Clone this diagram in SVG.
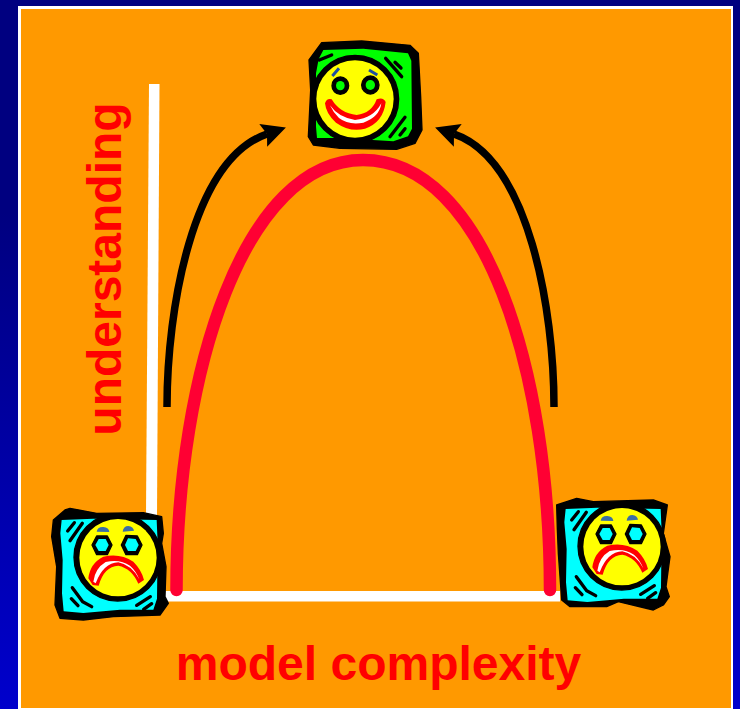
<svg xmlns="http://www.w3.org/2000/svg" width="740" height="709" viewBox="0 0 740 709">
<style>
.lbl{font-family:"Liberation Sans",Arial,sans-serif;font-weight:700;fill:#ff0000}
.k{fill:#000;stroke:#000;stroke-width:4;stroke-linejoin:round}.y{fill:#ffff00}.c{fill:#00ffff}.g{fill:#00ff00}.r{fill:#ff0000}.w{fill:#ffffff}
.hatch{stroke:#000;stroke-width:10;fill:none;stroke-linecap:round}
.sadbrow{fill:#3a6ea5}
</style>
<defs>
<linearGradient id="bg" x1="0" y1="0" x2="0" y2="1"><stop offset="0" stop-color="#000080"/><stop offset="0.3" stop-color="#000080"/><stop offset="1" stop-color="#0000cc"/></linearGradient>
<marker id="ah" markerUnits="userSpaceOnUse" markerWidth="34" markerHeight="34" refX="4" refY="12" orient="auto"><path d="M0,0L24,12L0,24L4,12Z" fill="#000"/></marker>
<g id="sad">
<path class="c" d="M65,60L160,56L350,60L353,130L351,296L340,329L240,329L130,339L71,334L66,280L68,180L61,100Z"/>
<circle class="k" cx="233" cy="172" r="131"/><circle class="y" cx="234" cy="173" r="116"/>
<path class="hatch" d="M83,93L103,68M90,122L127,70M97,263L128,305L155,320M94,296L114,317M290,316L331,290M311,328L335,311"/>
<path class="k" d="M156,135L170,108L202,108L216,135L202,164L170,164Z"/><path class="c" d="M166,135L176,117L197,117L206,135L197,153L176,153Z"/>
<path class="k" d="M244,135L258,106L292,108L306,135L292,164L258,164Z"/><path class="c" d="M255,135L264,115L287,117L296,135L287,153L264,153Z"/>
<path class="sadbrow" d="M170,95Q172,80 190,81Q207,82 208,96Z"/><path class="sadbrow" d="M248,95Q250,78 265,78Q280,80 282,92Z"/>
<path class="r" d="M145,235Q150,190 190,170Q240,158 280,185Q305,210 312,240L295,251Q275,205 235,197Q192,199 176,257L158,255Z"/>
<path class="w" d="M160,245Q165,205 197,186Q240,176 270,197Q288,213 298,238Q275,195 235,187Q190,189 167,250Z"/>
</g>
</defs>
<rect width="740" height="709" fill="url(#bg)"/>
<rect x="18" y="6" width="715" height="704" fill="#fff"/>
<rect x="21" y="9" width="710" height="699" fill="#ff9900"/>
<g id="axes">
<path d="M149,84H159.500L157,515H146Z" fill="#fff"/>
<rect x="160" y="591" width="400" height="10.500" fill="#fff"/>
</g>
<g id="connectors">
<path d="M176.500,590C176.500,370 245,160 363,160C485,160 550,370 550,590" fill="none" stroke="#ff0033" stroke-width="12.500" stroke-linecap="round"/>
<path d="M167,407C167,310 192,160 267,134" fill="none" stroke="#000" stroke-width="7.500" marker-end="url(#ah)"/>
<path d="M554,407C554,310 529,160 454,134" fill="none" stroke="#000" stroke-width="7.500" marker-end="url(#ah)"/>
</g>
<g id="happy" transform="translate(290,30) scale(.33333)">
<path class="k" d="M95,38L215,33L360,46L385,70L392,200L396,300L375,340L320,358L150,355L70,345L55,320L62,180L57,90Z"/>
<path class="g" d="M100,60L220,56L354,70L364,92L366,296L354,319L310,334L150,324L81,324L78,290L78,130L86,87Z"/>
<circle class="k" cx="195" cy="207" r="131"/><circle class="y" cx="195" cy="207" r="116"/>
<path class="hatch" d="M88,90L125,75M287,85L335,140M315,97L333,114M300,320L345,262M330,315L345,296"/>
<ellipse class="k" cx="151" cy="167" rx="25" ry="26"/><ellipse class="g" cx="151" cy="167" rx="13" ry="14"/>
<ellipse class="k" cx="241" cy="165" rx="26" ry="27"/><ellipse class="g" cx="241" cy="165" rx="14" ry="15"/>
<path d="M127,138L147,115M237,120L262,135" stroke="#1f4fa0" stroke-width="9" fill="none"/>
<path class="r" d="M105,220Q110,204 125,208Q150,250 200,255Q245,250 260,208Q280,200 287,216Q280,277 225,296Q180,308 138,278Q108,252 105,220Z"/>
<path class="w" d="M120,226Q145,262 195,270Q250,265 274,220Q268,262 220,278Q175,286 147,264Q128,245 120,226Z"/>
</g>
<g id="sad-left" transform="translate(40,500) scale(.33333)">
<path class="k" d="M75,30L90,25L170,40L310,38L365,50L370,100L365,130L378,200L375,290L385,310L360,345L220,350L130,360L60,355L45,315L50,200L35,110L40,60Z"/>
<use href="#sad"/>
</g>
<g id="sad-right" transform="translate(544,489) scale(.33333)">
<path class="k" d="M38,48L98,28L148,38L328,33L370,48L358,133L378,203L366,293L376,323L358,348L328,363L223,338L188,353L78,353L53,333L43,193L40,120Z"/>
<use href="#sad"/>
</g>
<text class="lbl" x="378.500" y="680" font-size="48" text-anchor="middle">model complexity</text>
<text class="lbl" transform="translate(121,269) rotate(-90)" font-size="48" text-anchor="middle">understanding</text>
</svg>
